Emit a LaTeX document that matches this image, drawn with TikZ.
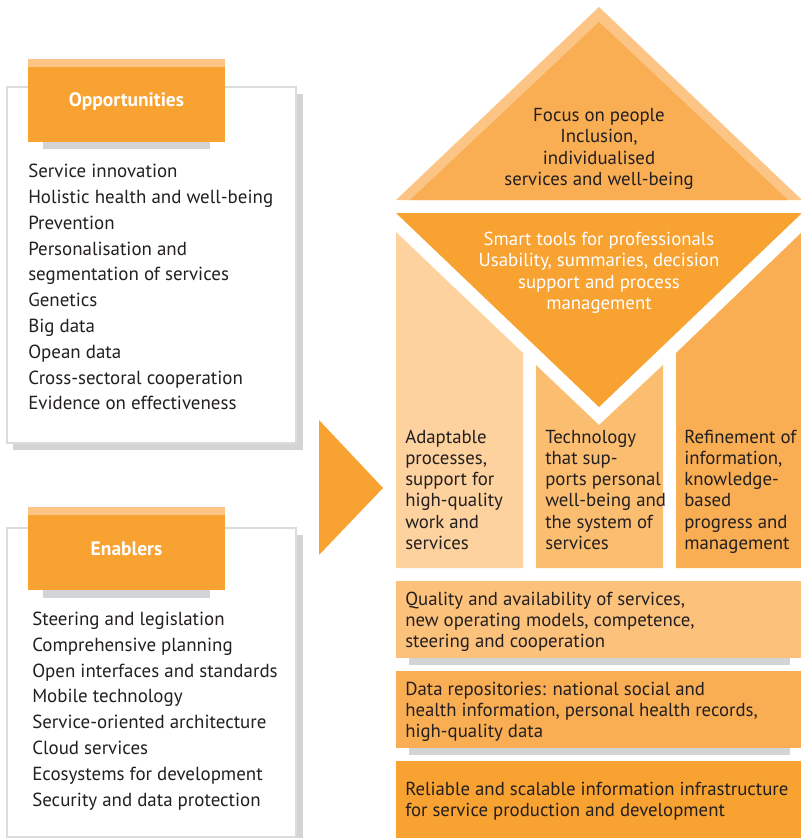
\documentclass[tikz,border=0pt]{standalone}
\usepackage{fontspec}
\setmainfont{PT Sans}
\definecolor{orDark}{HTML}{F8A231}
\definecolor{orMid}{HTML}{F9AE53}
\definecolor{orLight}{HTML}{FBBE70}
\definecolor{orQual}{HTML}{FCC27C}
\definecolor{orPale}{HTML}{FDD29E}
\definecolor{orStrip}{HTML}{FDC585}
\definecolor{shadowgray}{HTML}{D3D4D6}
\definecolor{boxborder}{HTML}{DCDCDC}
\definecolor{txt}{HTML}{231F20}
\tikzset{
  listtext/.style={inner sep=0pt, text=txt, font=\fontsize{14.2}{17}\selectfont},
  housetext/.style={inner sep=0pt, text=txt, font=\fontsize{14.1}{17}\selectfont},
  headtext/.style={inner sep=0pt, text=white, font=\bfseries\fontsize{14.6}{17}\selectfont},
  whitetext/.style={inner sep=0pt, text=white, font=\fontsize{14.1}{17}\selectfont},
}
\begin{document}
\begin{tikzpicture}[x=0.75pt,y=-0.75pt]
\useasboundingbox (0,0) rectangle (800,838);
% ---- Opportunities box
\fill[shadowgray] (13,94) rectangle (303,450);
\filldraw[fill=white,draw=boxborder,line width=0.8pt] (7,87) rectangle (296,443);
\fill[shadowgray] (43,142) rectangle (210,149);
\fill[orDark] (28,59) rectangle (225,142);
\fill[orStrip] (28,59) rectangle (225,67);
\node[headtext] (opphead) at (126.5,101) {Opportunities};
\foreach \t [count=\i from 0] in {Service innovation, Holistic health and well-being, Prevention, Personalisation and, segmentation of services, Genetics, Big data, Opean data, Cross-sectoral cooperation, Evidence on effectiveness}
  \node[listtext,anchor=base west] (opp\i) at (28,{177.7+25.8*\i}) {\t};
% ---- Enablers box
\fill[shadowgray] (13,535) rectangle (303,838);
\filldraw[fill=white,draw=boxborder,line width=0.8pt] (7,528) rectangle (296,837);
\fill[shadowgray] (43,590) rectangle (210,598);
\fill[orDark] (28,507) rectangle (225,590);
\fill[orStrip] (28,507) rectangle (225,515);
\node[headtext] (enahead) at (126.5,549) {Enablers};
\foreach \t [count=\i from 0] in {Steering and legislation, Comprehensive planning, Open interfaces and standards, Mobile technology, Service-oriented architecture, Cloud services, Ecosystems for development, Security and data protection}
  \node[listtext,anchor=base west] (ena\i) at (32,{625.5+25.8*\i}) {\t};
% ---- arrow
\fill[orDark] (319,420) -- (383,488) -- (319,555) -- cycle;
% ---- roof
\fill[orStrip] (396,200) -- (599,7) -- (802,200) -- cycle;
\fill[orMid] (410,200) -- (599,22) -- (788,200) -- cycle;
\foreach \t [count=\i from 0] in {Focus on people, {Inclusion,}, individualised, services and well-being}
  \node[housetext,anchor=base] (roof\i) at (599,{121.7+21.2*\i}) {\t};
% ---- smart tools (inverted triangle)
\fill[orDark] (396,213) -- (802,213) -- (599,407) -- cycle;
\foreach \t [count=\i from 0] in {Smart tools for professionals, {Usability, summaries, decision}, support and process, management}
  \node[whitetext,anchor=base] (smart\i) at (599,{245.7+21.2*\i}) {\t};
% ---- columns
\fill[orPale] (396,232) -- (523,353) -- (523,568) -- (396,568) -- cycle;
\fill[orLight] (536,365) -- (599,425) -- (663,365) -- (663,568) -- (536,568) -- cycle;
\fill[orMid] (676,353) -- (802,232) -- (802,568) -- (676,568) -- cycle;
\foreach \t [count=\i from 0] in {Adaptable, {processes,}, support for, high-quality, work and, services}
  \node[housetext,anchor=base west] (colA\i) at (405,{443.3+21.2*\i}) {\t};
\foreach \t [count=\i from 0] in {Technology, that sup-, ports personal, well-being and, the system of, services}
  \node[housetext,anchor=base west] (colB\i) at (545,{443.3+21.2*\i}) {\t};
\foreach \t [count=\i from 0] in {Refinement of, {information,}, knowledge-, based, progress and, management}
  \node[housetext,anchor=base west] (colC\i) at (684,{443.3+21.2*\i}) {\t};
% ---- bottom layers
\fill[shadowgray] (409,658) rectangle (790,665);
\fill[orQual] (396,581) rectangle (802,658);
\foreach \t [count=\i from 0] in {{Quality and availability of services,}, {new operating models, competence,}, steering and cooperation}
  \node[housetext,anchor=base west] (qual\i) at (405,{605+21.2*\i}) {\t};
\fill[shadowgray] (409,748) rectangle (790,755);
\fill[orMid] (396,671) rectangle (802,748);
\foreach \t [count=\i from 0] in {Data repositories: national social and, {health information, personal health records,}, high-quality data}
  \node[housetext,anchor=base west] (data\i) at (405,{695+21.2*\i}) {\t};
\fill[orDark] (396,761) rectangle (802,840);
\foreach \t [count=\i from 0] in {Reliable and scalable information infrastructure, for service production and development}
  \node[housetext,anchor=base west] (infra\i) at (405,{795+21.2*\i}) {\t};
\end{tikzpicture}
\end{document}
